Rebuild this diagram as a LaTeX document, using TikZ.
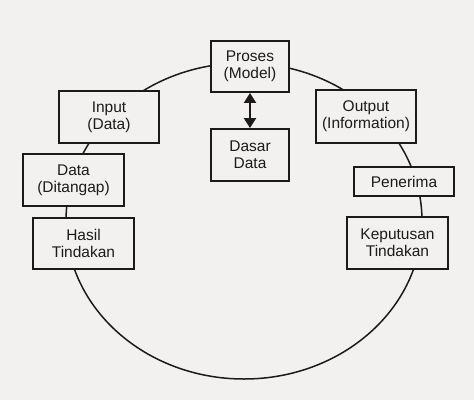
\documentclass[tikz,border=0pt]{standalone}
\usepackage{fontspec}
\setmainfont{Liberation Sans}
\usetikzlibrary{arrows.meta}
\definecolor{bg}{HTML}{F2F1EF}
\definecolor{ink}{HTML}{1E1A1A}
\begin{document}
\begin{tikzpicture}[x=1pt,y=-1pt,
  box/.style={draw=ink,fill=bg,line width=1.9pt,minimum width=#1,inner sep=0pt,align=center,
    font=\fontsize{15.5}{17}\selectfont,text=ink},
  box/.default=100pt]
\fill[bg] (0,0) rectangle (474,400);
\useasboundingbox (0,0) rectangle (474,400);
\draw[ink,line width=1.5pt] (244,221) ellipse [x radius=178, y radius=158];
\node[box=78pt,minimum height=51pt] (proses) at (250,66.5) {Proses\\(Model)};
\node[box=78pt,minimum height=52pt] (dasar) at (250,155) {Dasar\\Data};
\node[box=100pt,minimum height=52pt] (input) at (109,117) {Input\\(Data)};
\node[box=101pt,minimum height=52pt] (data) at (73.5,180) {Data\\(Ditangap)};
\node[box=101pt,minimum height=51pt] (hasil) at (83.5,243.5) {Hasil\\Tindakan};
\node[box=100pt,minimum height=53pt] (output) at (366,116.5) {Output\\(Information)};
\node[box=100pt,minimum height=29pt] (penerima) at (404,181.5) {Penerima};
\node[box=101pt,minimum height=52pt] (keputusan) at (397.5,243) {Keputusan\\Tindakan};
\draw[ink,line width=2.2pt,{Triangle[width=12pt,length=10pt]}-{Triangle[width=12pt,length=10pt]}]
  (proses.south) -- (dasar.north);
\end{tikzpicture}
\end{document}
